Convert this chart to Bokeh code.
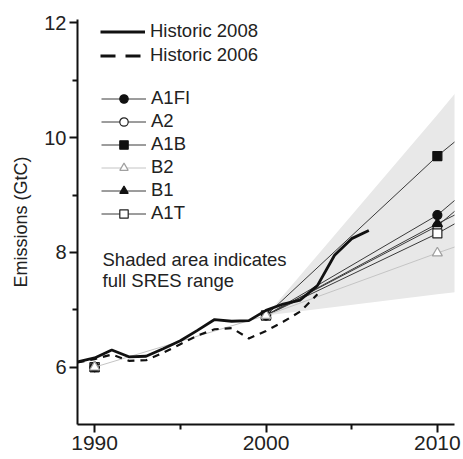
from bokeh.plotting import figure
from bokeh.models import ColumnDataSource, FixedTicker, Legend, LegendItem, Label, Range1d
from bokeh.embed import file_html
from bokeh.resources import INLINE

# ---------------- data ----------------
hist_years_2008 = [1989, 1990, 1991, 1992, 1993, 1994, 1995, 1996, 1997, 1998,
                   1999, 2000, 2001, 2002, 2003, 2004, 2005, 2006]
hist_2008 = [6.09, 6.16, 6.30, 6.18, 6.19, 6.32, 6.46, 6.64, 6.83, 6.80,
             6.81, 6.99, 7.10, 7.17, 7.42, 7.95, 8.24, 8.38]

hist_years_2006 = [1989, 1990, 1991, 1992, 1993, 1994, 1995, 1996, 1997, 1998,
                   1999, 2000, 2001, 2002, 2003]
hist_2006 = [6.08, 6.14, 6.22, 6.11, 6.12, 6.25, 6.40, 6.55, 6.66, 6.68,
             6.50, 6.63, 6.79, 6.97, 7.27]

scen_years = [1990, 2000, 2010, 2020]
A1FI = [6.0, 6.9, 8.65, 11.19]
A2 = [6.0, 6.9, 8.46, 11.01]
A1B = [6.0, 6.9, 9.68, 12.12]
B2 = [6.0, 6.9, 7.99, 9.02]
B1 = [6.0, 6.9, 8.50, 10.00]
A1T = [6.0, 6.9, 8.33, 10.00]

range_years = [2000, 2010, 2020]
range_low = [6.9, 7.27, 7.63]
range_high = [6.9, 10.4, 14.0]

x_ticks = [1990, 2000, 2010]
x_minor = [1995, 2005]
y_ticks = [6, 8, 10, 12]
y_minor = [7, 9, 11]

FONT = "Liberation Sans"
TXT = "#222222"

p = figure(width=463, height=459, x_range=Range1d(1989, 2011), y_range=Range1d(5, 12.06),
           output_backend="svg", toolbar_location=None,
           min_border_left=77, min_border_right=9, min_border_top=19, min_border_bottom=35)
p.outline_line_color = None
p.xgrid.grid_line_color = None
p.ygrid.grid_line_color = None
p.background_fill_color = "white"

# shaded SRES range
p.varea(x=range_years, y1=range_low, y2=range_high, fill_color="#e8e8e8")

# scenarios
def scen(vals, marker, fill, line_color, mcolor, full_line=False):
    start = 0 if full_line else 1
    l = p.line(scen_years[start:], vals[start:], line_color=line_color, line_width=1)
    s = p.scatter(scen_years, vals, marker=marker, size=9 if marker != "triangle" else 10,
                  fill_color=fill, line_color=mcolor, line_width=1.2)
    return [l, s]

r_A2 = scen(A2, "circle", "white", "#3a3a3a", "#222222")
r_A1B = scen(A1B, "square", "#111111", "#3a3a3a", "#111111")
r_A1T = scen(A1T, "square", "white", "#3a3a3a", "#222222")
r_B1 = scen(B1, "triangle", "#111111", "#3a3a3a", "#111111")
r_A1FI = scen(A1FI, "circle", "#111111", "#3a3a3a", "#111111")
r_B2 = scen(B2, "triangle", "white", "#c4c4c4", "#a0a0a0", full_line=True)

# historic
r_h06 = p.line(hist_years_2006, hist_2006, line_color="#111111", line_width=2.2, line_dash="7 6")
r_h08 = p.line(hist_years_2008, hist_2008, line_color="#111111", line_width=2.8)
r_h06_leg = p.line(x=[float("nan")], y=[float("nan")], line_color="#111111",
                   line_width=3.2, line_dash="15 10")

# axes
for ax, tk, mn in ((p.xaxis, x_ticks, x_minor), (p.yaxis, y_ticks, y_minor)):
    ax.ticker = FixedTicker(ticks=tk, minor_ticks=mn)
    ax.axis_line_width = 2
    ax.axis_line_color = "#111111"
    ax.major_tick_line_width = 2
    ax.major_tick_line_color = "#111111"
    ax.minor_tick_line_width = 2
    ax.minor_tick_line_color = "#111111"
    ax.major_tick_in = 0
    ax.minor_tick_in = 0
    ax.major_tick_out = 8
    ax.minor_tick_out = 5
    ax.major_label_text_font = FONT
    ax.major_label_text_color = TXT
    ax.major_label_standoff = 3
p.yaxis.major_label_text_font_size = "20px"
p.xaxis.major_label_text_font_size = "21px"

p.yaxis.axis_label = "Emissions (GtC)"
p.yaxis.axis_label_text_font = FONT
p.yaxis.axis_label_text_font_size = "18px"
p.yaxis.axis_label_text_font_style = "normal"
p.yaxis.axis_label_text_color = TXT
p.yaxis.axis_label_standoff = 10

def style_legend(lg, spacing):
    lg.glyph_width = 45
    lg.glyph_height = 21
    lg.label_height = 21
    lg.label_standoff = 5
    lg.spacing = spacing
    lg.padding = 0
    lg.margin = 0
    lg.border_line_color = None
    lg.background_fill_alpha = 0
    lg.label_text_font = FONT
    lg.label_text_font_size = "18.5px"
    lg.label_text_color = TXT

leg1 = Legend(items=[LegendItem(label="Historic 2008", renderers=[r_h08]),
                     LegendItem(label="Historic 2006", renderers=[r_h06_leg])],
              location=(23, 358))
style_legend(leg1, 2)
p.add_layout(leg1)

leg2 = Legend(items=[LegendItem(label="A1FI", renderers=r_A1FI),
                     LegendItem(label="A2", renderers=r_A2),
                     LegendItem(label="A1B", renderers=r_A1B),
                     LegendItem(label="B2", renderers=r_B2),
                     LegendItem(label="B1", renderers=r_B1),
                     LegendItem(label="A1T", renderers=r_A1T)],
              location=(24, 200))
style_legend(leg2, 1)
p.add_layout(leg2)

for txt, yv in (("Shaded area indicates", 7.88), ("full SRES range", 7.51)):
    p.add_layout(Label(x=1990.46, y=yv, text=txt, text_font=FONT, text_font_size="18.5px",
                       text_color=TXT, text_baseline="middle"))

open("out.html", "w").write(file_html(p, INLINE))
